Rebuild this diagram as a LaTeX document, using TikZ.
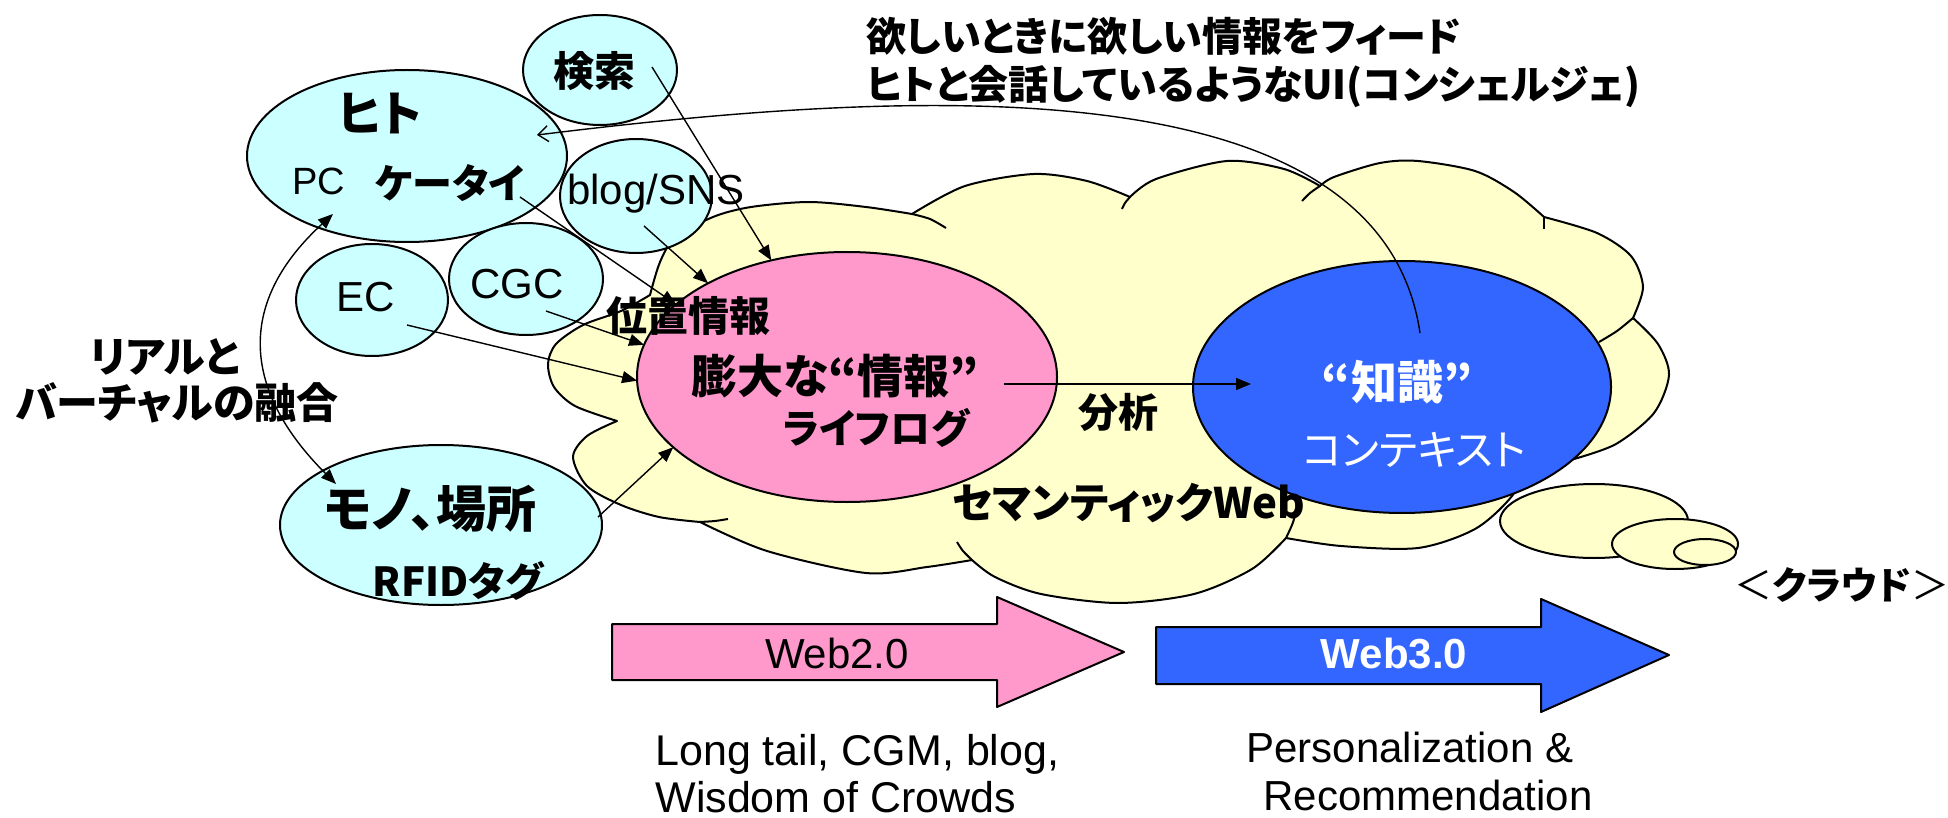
\documentclass[tikz,border=0pt]{standalone}
\usepackage{fontspec}
\setmainfont{Liberation Sans}
\newfontfamily\jp{Noto Sans CJK JP}[RawFeature=+palt]
\newfontfamily\jpfw{Noto Sans CJK JP}
\usetikzlibrary{shapes.geometric,arrows.meta,calc}
\definecolor{cloudY}{HTML}{FFFFCC}
\definecolor{pinkF}{HTML}{FF99CC}
\definecolor{blueF}{HTML}{3366FF}
\definecolor{cyanF}{HTML}{CCFFFF}
\newcommand\fsz[1]{\fontsize{#1}{#1}\selectfont}
\begin{document}
\begin{tikzpicture}[x=0.5pt,y=-0.5pt,line join=round,
  ell/.style={ellipse, draw=black, line width=1pt, inner sep=0pt, outer sep=0pt},
  cyanell/.style={ell, fill=cyanF},
  yell/.style={ell, fill=cloudY},
  arr/.style={-{Triangle[length=7.5pt,width=6pt]}, line width=0.7pt},
  dblarr/.style={{Triangle[length=7.5pt,width=6pt]}-{Triangle[length=7.5pt,width=6pt]}, line width=0.7pt},
  openarr/.style={-{Straight Barb[length=5pt,width=8pt]}, line width=0.7pt},
  jb/.style={font=\jp\bfseries\fsz{#1}, inner sep=0pt},
  jr/.style={font=\jp\fsz{#1}, inner sep=0pt},
  lat/.style={font=\fsz{#1}, inner sep=0pt},
  latb/.style={font=\bfseries\fsz{#1}, inner sep=0pt},
  cloudline/.style={draw=black, line width=1pt},
  blockarrow/.style={draw=black, line width=1pt}]
\useasboundingbox (0,0) rectangle (1948,818);
\fill[white] (0,0) rectangle (1948,818);

% cloud
\filldraw[cloudline, fill=cloudY]
  plot[smooth] coordinates {(1286,538) (1341,546) (1418,548) (1475,529) (1512,496) (1530,460)}
  -- plot[smooth] coordinates {(1574,459) (1616,444) (1654,413) (1669,375) (1658,344) (1633,318)}
  -- plot[smooth] coordinates {(1633,318) (1643,287) (1631,256) (1597,233) (1544,217)}
  -- plot[smooth] coordinates {(1544,217) (1514,192) (1475,171) (1418,161) (1380,163) (1334,177) (1320,186)}
  -- plot[smooth] coordinates {(1320,186) (1284,169) (1227,161) (1156,179) (1130,197)}
  -- plot[smooth] coordinates {(1130,197) (1087,181) (1034,174) (965,186) (912,214)}
  -- plot[smooth] coordinates {(912,214) (866,207) (809,202) (751,207) (713,217) (675,238) (660,262) (650,295)}
  -- plot[smooth] coordinates {(650,295) (621,311) (583,325) (556,344) (548,364) (554,387) (575,406) (617,421)}
  -- plot[smooth] coordinates {(617,421) (587,436) (573,457) (587,486) (621,505) (659,517) (700,522)}
  -- plot[smooth] coordinates {(700,522) (767,551) (866,573) (927,567) (972,560)}
  -- plot[smooth] coordinates {(972,560) (995,577) (1041,594) (1118,603) (1194,594) (1252,569) (1286,538)}
  -- cycle;
% inner arcs of the cloud
\draw[cloudline] plot[smooth] coordinates {(912,214) (930,219) (946,228)};
\draw[cloudline] plot[smooth] coordinates {(1130,197) (1125,203) (1122,209)};
\draw[cloudline] plot[smooth] coordinates {(1320,186) (1310,193) (1302,201)};
\draw[cloudline] (1544,217) -- (1544,229);
\draw[cloudline] plot[smooth] coordinates {(1633,318) (1617,331) (1599,342)};
\draw[cloudline] plot[smooth] coordinates {(1286,538) (1292,525) (1296,513)};
\draw[cloudline] plot[smooth] coordinates {(972,560) (963,551) (957,542)};
\draw[cloudline] plot[smooth] coordinates {(700,522) (715,521) (728,519)};

% bubbles
\node[yell, minimum width=94pt, minimum height=37pt] (bub1) at (1594,521) {};
\node[yell, minimum width=63pt, minimum height=25pt] (bub2) at (1675,544) {};
\node[yell, minimum width=31pt, minimum height=13pt] (bub3) at (1705,552) {};

% cyan ellipses
\node[cyanell, minimum width=160pt, minimum height=86pt] (hito) at (407,156) {};
\node[cyanell, minimum width=77pt, minimum height=55pt] (kensaku) at (600,70) {};
\node[cyanell, minimum width=76pt, minimum height=57pt] (blog) at (636,196) {};
\node[cyanell, minimum width=76pt, minimum height=56pt] (ec) at (372,300) {};
\node[cyanell, minimum width=77pt, minimum height=56pt] (cgc) at (526,279) {};
\node[cyanell, minimum width=161pt, minimum height=80pt] (mono) at (441,525) {};

% central ellipses
\node[ell, fill=pinkF, minimum width=210pt, minimum height=125pt] (info) at (847,377) {};
\node[ell, fill=blueF, minimum width=209pt, minimum height=126pt] (know) at (1402,387) {};

% block arrows
\filldraw[blockarrow, fill=pinkF] (612,624) -- (997,624) -- (997,597) -- (1124,652) -- (997,707) -- (997,680) -- (612,680) -- cycle;
\filldraw[blockarrow, fill=blueF] (1156,627) -- (1541,627) -- (1541,599) -- (1669,655) -- (1541,712) -- (1541,684) -- (1156,684) -- cycle;

% connectors
\draw[arr] ($(kensaku.center)+(52,-3)$) -- (info.123);
\draw[arr] ($(hito.center)+(113,41)$) -- (info.157);
\draw[arr] ($(blog.center)+(8,30)$) -- (info.146);
\draw[arr] ($(cgc.center)+(20,32)$) -- (info.171);
\draw[arr] ($(ec.center)+(35,25)$) -- (info.181);
\draw[arr] ($(mono.center)+(157,-8)$) -- (info.202);
\draw[arr] ($(info.center)+(157,7)$) -- ($(know.center)+(-151,-3)$);
\draw[openarr] ($(know.center)+(18,-54)$) .. controls (1380,60) and (900,90) .. ($(hito.center)+(130,-21)$);
\draw[dblarr] ($(hito.center)+(-74,58)$) .. controls (239,300) and (239,387) .. ($(mono.center)+(-105,-41)$);

% texts
\node[jb=20pt, anchor=west] (title1) at (866,36) {欲しいときに欲しい情報をフィード};
\node[jb=20pt, anchor=west] (title2) at (866,87) {ヒトと会話しているようなUI(コンシェルジェ)};
\node[jb=20.5pt] (tKensaku) at (594,71) {検索};
\node[jb=24pt] (tHito) at (380,114) {ヒト};
\node[lat=19pt, anchor=base] (tPC) at (319,195) {PC};
\node[jb=20pt] (tKeitai) at (450,183) {ケータイ};
\node[lat=21pt, anchor=base] (tBlog) at (656,205) {blog/SNS};
\node[lat=21pt, anchor=base] (tEC) at (366,312) {EC};
\node[lat=21pt, anchor=base] (tCGC) at (517,299) {CGC};
\node[jb=21pt] (tReal1) at (165,357) {リアルと};
\node[jb=21pt] (tReal2) at (177,403) {バーチャルの融合};
\node[jb=25pt] (tMono) at (430,509) {モノ、場所};
\node[jb=20pt] (tRFID) at (458,581) {RFIDタグ};
\node[jb=20.5pt] (tPos) at (688,316) {位置情報};
\node[jb=23pt] (tInfo) at (835,376) {膨大な“情報”};
\node[jb=20pt] (tLife) at (876,428) {ライフログ};
\node[jb=20pt] (tBunseki) at (1118,412) {分析};
\node[jb=21pt] (tSem) at (1129,503) {セマンティックWeb};
\node[jb=23pt, text=white] (tKnow) at (1397,382) {“知識”};
\node[jr=21pt, text=white] (tCtx) at (1414,450) {コンテキスト};
\node[lat=21pt, anchor=base] (tW2) at (837,668) {Web2.0};
\node[latb=21pt, anchor=base, text=white] (tW3) at (1394,668) {Web3.0};
\node[lat=21.5pt, anchor=base west] (tLT) at (655,765) {Long tail, CGM, blog,};
\node[lat=21.5pt, anchor=base west] (tWoC) at (655,812) {Wisdom of Crowds};
\node[lat=21pt, anchor=base west] (tPers) at (1246,762) {Personalization \&};
\node[lat=21pt, anchor=base west] (tRec) at (1263,810) {Recommendation};
\node[jb=19pt] (tCloud) at (1842,585) {{\jpfw\mdseries ＜}クラウド{\jpfw\mdseries ＞}};
\end{tikzpicture}
\end{document}
